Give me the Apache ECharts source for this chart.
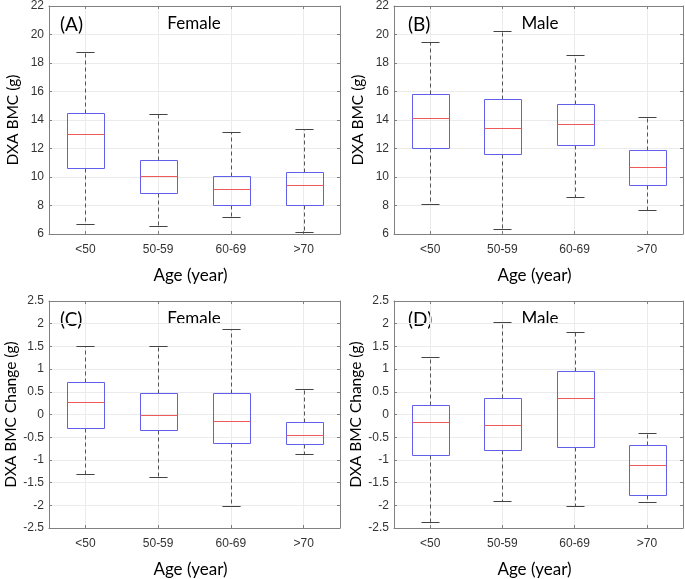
<!DOCTYPE html>
<html>
<head>
<meta charset="utf-8">
<script src="https://cdn.jsdelivr.net/npm/echarts@6/dist/echarts.min.js"></script>
<style>html,body{margin:0;padding:0;background:#fff;}#c{width:685px;height:579px;}</style>
</head>
<body>
<div id="c"></div>
<script>
// ---- data: [min, Q1, median, Q3, max] per age group ----
const categories = ['<50', '50-59', '60-69', '>70'];
const femaleBMC = [
  [6.72, 10.62, 13.03, 14.48, 18.75],
  [6.58, 8.87, 10.06, 11.18, 14.41],
  [7.19, 8.03, 9.15, 10.06, 13.14],
  [6.14, 8.03, 9.45, 10.32, 13.38]
];
const maleBMC = [
  [8.12, 12.02, 14.15, 15.79, 19.45],
  [6.35, 11.63, 13.45, 15.46, 20.27],
  [8.61, 12.23, 13.71, 15.11, 18.54],
  [7.65, 9.45, 10.69, 11.91, 14.24]
];
const femaleChange = [
  [-1.30, -0.30, 0.27, 0.72, 1.51],
  [-1.38, -0.35, 0.00, 0.48, 1.51],
  [-2.01, -0.62, -0.15, 0.48, 1.88],
  [-0.87, -0.64, -0.46, -0.16, 0.555]
];
const maleChange = [
  [-2.36, -0.89, -0.17, 0.20, 1.27],
  [-1.90, -0.79, -0.23, 0.37, 2.03],
  [-2.01, -0.71, 0.37, 0.95, 1.82],
  [-1.93, -1.77, -1.12, -0.68, -0.40]
];
const panelLetters = ['(A)', '(B)', '(C)', '(D)'];
const panelGroups = ['Female', 'Male', 'Female', 'Male'];
const yNames = ['DXA BMC (g)', 'DXA BMC (g)', 'DXA BMC Change (g)', 'DXA BMC Change (g)'];
const xName = 'Age (year)';
const bmcTicks = {min: 6, max: 22, interval: 2};
const changeTicks = {min: -2.5, max: 2.5, interval: 0.5};

const panels = [femaleBMC, maleBMC, femaleChange, maleChange];
const panelTicks = [bmcTicks, bmcTicks, changeTicks, changeTicks];

const grids = [
  {left: 49, top: 6, width: 291, height: 228},
  {left: 394, top: 6, width: 289, height: 228},
  {left: 49, top: 301, width: 291, height: 230},
  {left: 394, top: 301, width: 289, height: 230}
];

const TICK_FONT = 'Liberation Sans';
const LABEL_FONT = 'Lato';
const AXIS_COLOR = '#808080';
const GRID_COLOR = '#ebebeb';

const xAxes = [], yAxes = [], series = [], graphics = [];
grids.forEach((g, i) => {
  xAxes.push({
    gridIndex: i, type: 'category', data: categories, position: 'bottom',
    axisLine: {show: true, onZero: false, lineStyle: {color: AXIS_COLOR, width: 1}},
    axisTick: {show: true, inside: true, alignWithLabel: true, length: 3, lineStyle: {color: AXIS_COLOR}},
    axisLabel: {color: '#333', fontSize: 12, fontFamily: TICK_FONT, margin: 10},
    splitLine: {show: true, alignWithLabel: true, lineStyle: {color: GRID_COLOR, width: 1}},
    name: xName, nameLocation: 'middle', nameGap: 33,
    nameTextStyle: {fontSize: 17, fontFamily: LABEL_FONT, color: '#000', padding: [0, 8, 0, 0]}
  });
  xAxes.push({
    gridIndex: i, type: 'category', data: categories, position: 'top',
    axisLine: {show: true, onZero: false, lineStyle: {color: AXIS_COLOR, width: 1}},
    axisTick: {show: true, inside: true, alignWithLabel: true, length: 3, lineStyle: {color: AXIS_COLOR}},
    axisLabel: {show: false}, splitLine: {show: false}
  });
  const t = panelTicks[i];
  yAxes.push({
    gridIndex: i, type: 'value', position: 'left', min: t.min, max: t.max, interval: t.interval,
    axisLine: {show: true, onZero: false, lineStyle: {color: AXIS_COLOR, width: 1}},
    axisTick: {show: true, inside: true, length: 3, lineStyle: {color: AXIS_COLOR}},
    axisLabel: {color: '#333', fontSize: 12, fontFamily: TICK_FONT, margin: 5},
    splitLine: {show: true, lineStyle: {color: GRID_COLOR, width: 1}},
    name: yNames[i], nameLocation: 'middle', nameGap: 28, nameRotate: 90,
    nameTextStyle: {fontSize: 15.5, fontFamily: LABEL_FONT, color: '#000'}
  });
  yAxes.push({
    gridIndex: i, type: 'value', position: 'right', min: t.min, max: t.max, interval: t.interval,
    axisLine: {show: true, onZero: false, lineStyle: {color: AXIS_COLOR, width: 1}},
    axisTick: {show: true, inside: true, length: 3, lineStyle: {color: AXIS_COLOR}},
    axisLabel: {show: false}, splitLine: {show: false}
  });
  series.push({
    type: 'custom',
    xAxisIndex: 2 * i, yAxisIndex: 2 * i,
    data: panels[i].map((d, k) => [k].concat(d)),
    encode: {x: 0, y: [1, 2, 3, 4, 5]},
    renderItem: function (params, api) {
      const idx = api.value(0);
      const cx = Math.round(api.coord([idx, api.value(3)])[0]) + 0.5;
      const band = api.size([1, 0])[0];
      const boxW = band * 0.51, capW = band * 0.25;
      const yv = k => Math.round(api.coord([idx, api.value(k)])[1]) + 0.5;
      const yMin = yv(1), yQ1 = yv(2), yMed = yv(3), yQ3 = yv(4), yMax = yv(5);
      const dash = {stroke: '#555', lineWidth: 1, lineDash: [4, 3]};
      const cap = {stroke: '#444', lineWidth: 1};
      const bx = Math.round(cx - boxW / 2) + 0.5, bw = Math.round(boxW);
      return {
        type: 'group',
        children: [
          {type: 'line', shape: {x1: cx, y1: yQ3, x2: cx, y2: yMax}, style: dash},
          {type: 'line', shape: {x1: cx, y1: yQ1, x2: cx, y2: yMin}, style: dash},
          {type: 'line', shape: {x1: cx - capW / 2, y1: yMax, x2: cx + capW / 2, y2: yMax}, style: cap},
          {type: 'line', shape: {x1: cx - capW / 2, y1: yMin, x2: cx + capW / 2, y2: yMin}, style: cap},
          {type: 'rect', shape: {x: bx, y: yQ3, width: bw, height: yQ1 - yQ3},
            style: {fill: 'none', stroke: '#6060ec', lineWidth: 1}},
          {type: 'line', shape: {x1: bx, y1: yMed, x2: bx + bw, y2: yMed},
            style: {stroke: '#ee5a5a', lineWidth: 1}}
        ]
      };
    }
  });
  graphics.push({
    type: 'text', x: g.left + (i % 2 === 0 ? 11 : 14), y: g.top + 19,
    style: {text: panelLetters[i], fontSize: 19, fontFamily: LABEL_FONT, fill: '#000', align: 'left', verticalAlign: 'middle'}
  });
  graphics.push({
    type: 'text', x: g.left + (i % 2 === 0 ? 145 : 146), y: g.top + 18,
    style: {text: panelGroups[i], fontSize: 17, fontFamily: LABEL_FONT, fill: '#000', align: 'center', verticalAlign: 'middle'}
  });
});

const chart = echarts.init(document.getElementById('c'), null, {renderer: 'canvas'});
chart.setOption({
  animation: false,
  backgroundColor: '#fff',
  grid: grids.map(g => Object.assign({containLabel: false}, g)),
  xAxis: xAxes,
  yAxis: yAxes,
  series: series,
  graphic: graphics
});
</script>
</body>
</html>
